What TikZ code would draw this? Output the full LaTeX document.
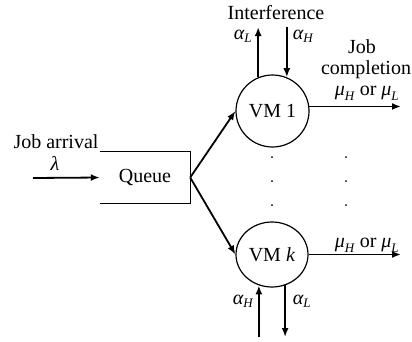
\documentclass[tikz,border=0pt]{standalone}
\usepackage{fontspec}
\setmainfont{Liberation Serif}
\usetikzlibrary{shapes.geometric,arrows.meta}
\newcommand\gsym[2]{$\mbox{\itshape #1}_{\mbox{\fontsize{13}{14}\selectfont\itshape #2}}$}
\begin{document}
\begin{tikzpicture}[x=1pt,y=-1pt,
  every node/.style={font=\fontsize{20}{23}\selectfont, inner sep=0pt},
  vm/.style={ellipse, draw, line width=1.2pt},
  arr/.style={line width=1.8pt, -{Latex[length=9pt,width=7pt]}},
  thin/.style={line width=1.2pt},
  dot/.style={circle, fill, minimum size=2pt, inner sep=0pt}]
\useasboundingbox (0,0) rectangle (412,341);
% queue
\node[minimum width=90pt, minimum height=51pt] (queue) at (145,177.5) {Queue};
\draw[thin] (queue.north west) -- (queue.north east) -- (queue.south east) -- (queue.south west);
% VMs
\node[vm, minimum width=73pt, minimum height=72pt] (vm1) at (272.5,111) {VM 1};
\node[vm, minimum width=72pt, minimum height=65pt] (vmk) at (272,254.5) {VM \textit{k}};
% input
\node (arrival) at (56,142) {Job arrival};
\node (lambda) at (55,163) {\textit{λ}};
\coordinate (in) at (33,178);
\draw[arr] (in) -- (queue.west);
% dispatch
\draw[arr] (queue.east) -- (vm1.west);
\draw[arr] (queue.east) -- (vmk.west);
% outputs
\coordinate (out) at (401,0);
\draw[arr] (vm1.7) -- (out |- vm1.7);
\draw[arr] (vmk.east) -- (out |- vmk.east);
\node (job) at (362,47) {Job};
\node (compl) at (366,70) {completion};
\node (mu1) at (367,93) {\gsym{μ}{H} or \gsym{μ}{L}};
\node (muk) at (367,245) {\gsym{μ}{H} or \gsym{μ}{L}};
% interference top
\node (interf) at (276,13) {Interference};
\coordinate (ttop) at (0,27);
\draw[arr] (vm1.113) -- (vm1.113 |- ttop);
\draw[arr] (vm1.67 |- ttop) -- (vm1.67);
\node (aL1) at (243,36) {\gsym{α}{L}};
\node (aH1) at (303,36) {\gsym{α}{H}};
% interference bottom
\coordinate (tbot) at (0,337);
\draw[arr] (vmk.-113 |- tbot) -- (vmk.-113);
\draw[arr] (vmk.-67) -- (vmk.-67 |- tbot);
\node (aHk) at (243,301) {\gsym{α}{H}};
\node (aLk) at (302,301) {\gsym{α}{L}};
% dots
\foreach \y [count=\i] in {157,181,205} {
  \node[dot] (da\i) at (272,\y) {};
  \node[dot] (db\i) at (346,\y) {};
}
\end{tikzpicture}
\end{document}
